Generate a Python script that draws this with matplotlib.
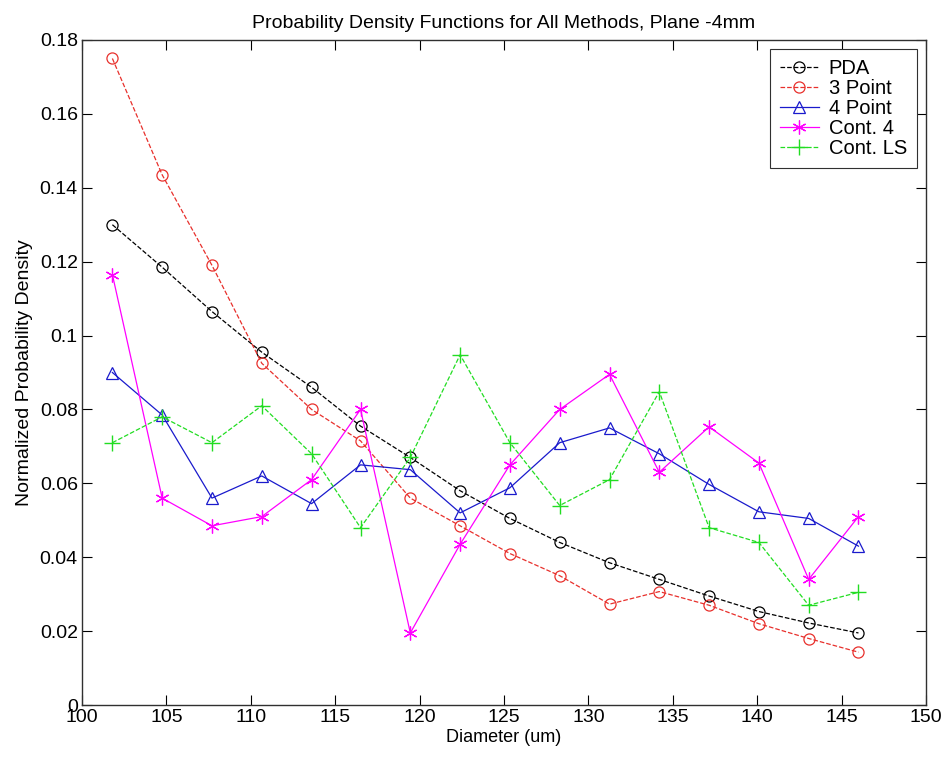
import matplotlib
matplotlib.use("Agg")
import matplotlib.pyplot as plt
from matplotlib.ticker import FuncFormatter

plt.rcParams["font.family"] = ["Liberation Sans", "DejaVu Sans"]

# bin centres (um)
diameter = [101.8, 104.75, 107.7, 110.65, 113.6, 116.5, 119.45, 122.4,
            125.35, 128.3, 131.25, 134.2, 137.15, 140.1, 143.05, 146.0]

pda = [0.130, 0.1185, 0.1065, 0.0955, 0.086, 0.0755, 0.067, 0.058,
       0.0505, 0.044, 0.0385, 0.034, 0.0295, 0.0253, 0.0222, 0.0195]
pt3 = [0.175, 0.1435, 0.119, 0.0925, 0.080, 0.0715, 0.056, 0.0485,
       0.041, 0.035, 0.0273, 0.0307, 0.027, 0.022, 0.018, 0.0143]
pt4 = [0.090, 0.0785, 0.056, 0.062, 0.0545, 0.065, 0.0637, 0.052,
       0.0588, 0.071, 0.075, 0.068, 0.0597, 0.0523, 0.0505, 0.043]
cont4 = [0.1165, 0.056, 0.0485, 0.051, 0.061, 0.080, 0.0195, 0.0435,
         0.065, 0.080, 0.0895, 0.063, 0.0753, 0.0655, 0.034, 0.051]
contls = [0.071, 0.078, 0.071, 0.081, 0.068, 0.048, 0.067, 0.0948,
          0.071, 0.054, 0.061, 0.0848, 0.048, 0.044, 0.027, 0.0305]

fig = plt.figure(figsize=(9.45, 7.58), dpi=100)
ax = fig.add_axes([82 / 945, 53 / 758, 844 / 945, 665 / 758])

lw = 0.9
asterisk = (6, 2, 0)
ax.plot(diameter, pda, "--", color="black", marker="o", mfc="none", ms=8, lw=lw, mew=0.9, label="PDA")
ax.plot(diameter, pt3, "--", color="#e8302c", marker="o", mfc="none", ms=8, lw=lw, mew=0.9, label="3 Point")
ax.plot(diameter, pt4, "-", color="#1a1acc", marker="^", mfc="none", ms=9, lw=lw, mew=0.9, label="4 Point")
ax.plot(diameter, cont4, "-", color="#ff00ff", marker=asterisk, ms=10, lw=lw, mew=0.9, label="Cont. 4")
ax.plot(diameter, contls, "--", color="#22dd22", marker="+", ms=11, lw=lw, mew=1.0, label="Cont. LS")

ax.set_xlim(100, 150)
ax.set_ylim(0, 0.18)
ax.set_xticks(range(100, 151, 5))
ax.set_yticks([0, 0.02, 0.04, 0.06, 0.08, 0.1, 0.12, 0.14, 0.16, 0.18])
ax.yaxis.set_major_formatter(FuncFormatter(lambda v, p: f"{v:g}"))
ax.tick_params(direction="in", length=7, labelsize=14, top=True, right=True, pad=3)
for s in ax.spines.values():
    s.set_color("#303030")
    s.set_linewidth(1.0)

ax.set_xlabel("Diameter (um)", fontsize=13, labelpad=2)
ax.set_ylabel("Normalized Probability Density", fontsize=14, labelpad=5)
ax.set_title("Probability Density Functions for All Methods, Plane -4mm", fontsize=14, pad=9)

leg = ax.legend(loc="upper right", fontsize=14.5, handlelength=1.9, handletextpad=0.5,
                borderpad=0.5, labelspacing=0.05, fancybox=False, framealpha=1,
                borderaxespad=0, bbox_to_anchor=(1 - 9 / 844, 1 - 9 / 665))
leg.get_frame().set_edgecolor("#303030")
leg.get_frame().set_linewidth(0.8)

fig.savefig("out.png", dpi=100)
